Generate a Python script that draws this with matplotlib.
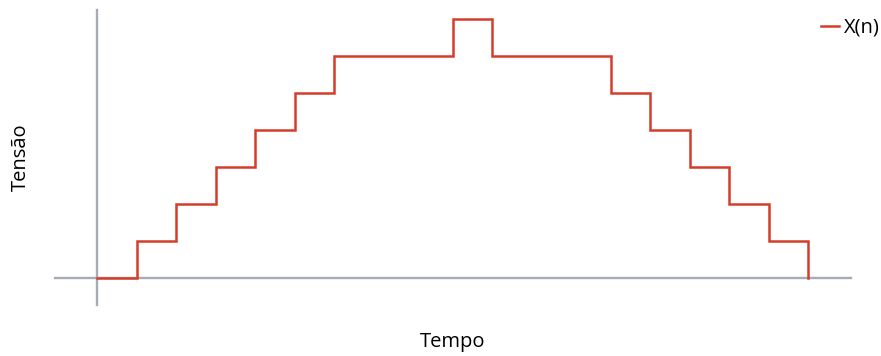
import matplotlib.pyplot as plt
import numpy as np

plt.rcParams['font.family'] = ['Open Sans', 'DejaVu Sans']

# dados (degraus da escada)
n = list(range(19))
x_n = [0, 1, 2, 3, 4, 5, 6, 6, 6, 7, 6, 6, 6, 5, 4, 3, 2, 1, 0]

RED = '#d43d2a'
GRAY = '#a6abb5'

W, H = 881, 356
fig = plt.figure(figsize=(W / 100, H / 100), dpi=100)
ax = fig.add_axes([55 / W, 1 - 305 / H, (851 - 55) / W, (305 - 10) / H])

ax.plot(n, x_n, drawstyle='steps-post', color=RED, linewidth=1.8,
        label='X(n)', zorder=5, solid_joinstyle='miter')

ax.set_xlim(-42 / 39.5, 754 / 39.5)
ax.set_ylim(-27 / 37, 268 / 37)

for side in ['top', 'right']:
    ax.spines[side].set_visible(False)
for side in ['left', 'bottom']:
    ax.spines[side].set_position(('data', 0))
    ax.spines[side].set_color(GRAY)
    ax.spines[side].set_linewidth(1.7)
ax.set_xticks([])
ax.set_yticks([])
ax.patch.set_alpha(0)

fig.text(21 / W, 1 - 157 / H, 'Tensão', rotation=90, ha='center', va='center', fontsize=14.5)
fig.text(453 / W, 1 - 342 / H, 'Tempo', ha='center', va='center', fontsize=14.5)

fig.legend(loc='center right', bbox_to_anchor=(1.0, 1 - 28 / H), frameon=False,
           handlelength=0.9, handletextpad=0.25, fontsize=14.5,
           borderaxespad=0, borderpad=0.05)

fig.savefig('out.png', dpi=100)
